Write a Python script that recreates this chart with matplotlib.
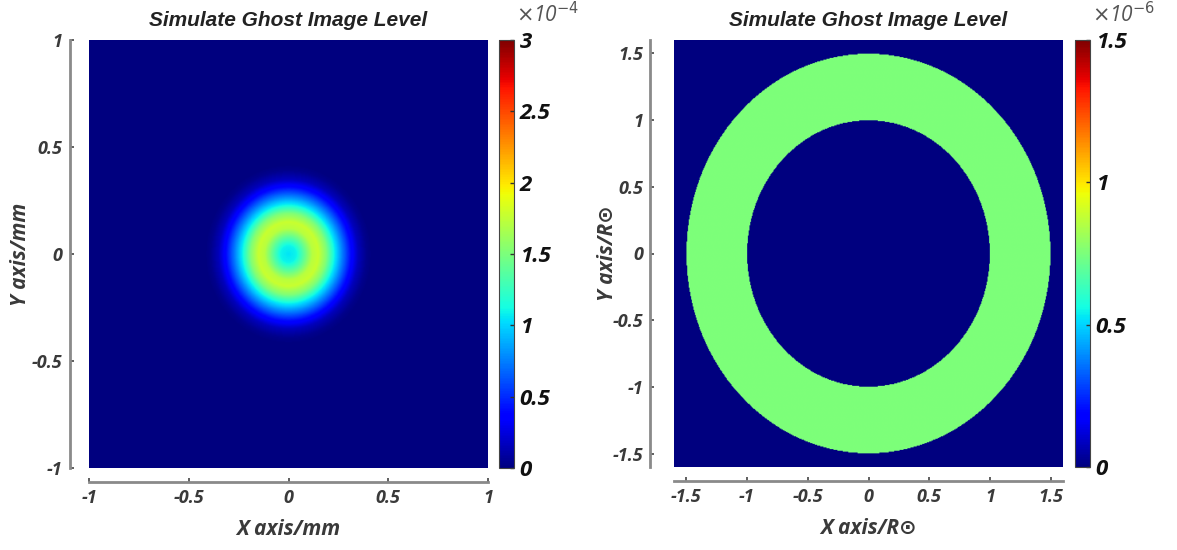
import numpy as np
import matplotlib
matplotlib.use("Agg")
import matplotlib.pyplot as plt

# ---- data ----
# Left panel: radial profile of the ghost spot (radius in mm, level in 1e-4)
spot_radius = [0.00, 0.04, 0.08, 0.12, 0.15, 0.19, 0.23, 0.27, 0.31, 0.35, 0.39, 0.42, 1.50]
spot_level = [1.05, 1.10, 1.40, 1.72, 1.78, 1.52, 1.10, 0.75, 0.42, 0.16, 0.04, 0.00, 0.00]
# Right panel: annulus (radius in R_sun, level in 1e-6)
ring_inner = 1.0
ring_outer = 1.5
ring_level = 0.75

left_xticks = [-1, -0.5, 0, 0.5, 1]
left_yticks = [-1, -0.5, 0, 0.5, 1]
left_cticks = [0, 0.5, 1, 1.5, 2, 2.5, 3]
right_ticks = [-1.5, -1, -0.5, 0, 0.5, 1, 1.5]
right_cticks = [0, 0.5, 1, 1.5]

title = "Simulate Ghost Image Level"

LBL = ["Open Sans", "DejaVu Sans"]
TTL = ["Liberation Sans", "DejaVu Sans"]
plt.rcParams["font.family"] = LBL
TICKC = "#3a3a3a"
SPC = "#8a8a8a"

fig = plt.figure(figsize=(11.77, 5.5), dpi=100)
W, H = 1177, 550


def ax_rect(x0, y0, x1, y1):
    return [x0 / W, 1 - y1 / H, (x1 - x0) / W, (y1 - y0) / H]


def fmt(v):
    return ("%g" % v)


def style_axes(ax, xt, yt, xlabel, ylabel, ylx, offl):
    for s in ["top", "right"]:
        ax.spines[s].set_visible(False)
    ax.spines["left"].set_position(("outward", offl))
    ax.spines["bottom"].set_position(("outward", 10))
    for s in ["left", "bottom"]:
        ax.spines[s].set_color(SPC)
        ax.spines[s].set_linewidth(2.0)
    ax.set_xticks(xt)
    ax.set_yticks(yt)
    ax.set_xticklabels([fmt(v) for v in xt])
    ax.set_yticklabels([fmt(v) for v in yt])
    ax.tick_params(direction="in", length=3, width=1.2, color="#444444",
                   labelcolor=TICKC, labelsize=13, pad=5)
    for lab in ax.get_xticklabels() + ax.get_yticklabels():
        lab.set_fontweight("bold")
        lab.set_fontstyle("italic")
    ax.set_xlabel(xlabel, fontsize=15, fontweight="bold", fontstyle="italic",
                  color=TICKC)
    ax.set_ylabel(ylabel, fontsize=15, fontweight="bold", fontstyle="italic",
                  color=TICKC)
    ax.xaxis.set_label_coords(0.5, -0.12)
    ax.yaxis.set_label_coords(ylx, 0.5)
    ax.set_title(title, fontsize=15, fontweight="bold", fontstyle="italic",
                 color="#222222", pad=10, family=TTL)


def style_cbar(cax, cb, ticks, scale, exp):
    cb.set_ticks([v * scale for v in ticks])
    cax.set_yticklabels([fmt(v) for v in ticks])
    cax.tick_params(direction="in", length=3, width=1, color="#333333",
                    labelsize=16, pad=4, labelcolor="#111111")
    for lab in cax.get_yticklabels():
        lab.set_fontweight("bold")
        lab.set_fontstyle("italic")
    cb.outline.set_edgecolor("#444444")
    cb.outline.set_linewidth(0.8)
    cax.text(1.1, 1.03, r"$\times$10$^{%s}$" % exp, transform=cax.transAxes,
             fontsize=15, color="#555555", fontstyle="italic", ha="left",
             va="bottom")


# ---------- left panel ----------
n = 500
xs = np.linspace(-1, 1, n)
X, Y = np.meshgrid(xs, xs)
R = np.sqrt(X ** 2 + Y ** 2)
Z1 = np.interp(R, spot_radius, spot_level) * 1e-4

ax1 = fig.add_axes(ax_rect(89, 40, 488, 468))
im1 = ax1.imshow(Z1, extent=[-1, 1, -1, 1], origin="lower", cmap="jet",
                 vmin=0, vmax=3e-4, aspect="auto", interpolation="bilinear")
ax1.set_xlim(-1, 1)
ax1.set_ylim(-1, 1)
style_axes(ax1, left_xticks, left_yticks, "X axis/mm", "Y axis/mm", -0.145, 14)

cax1 = fig.add_axes(ax_rect(499, 40, 514, 468))
cb1 = fig.colorbar(im1, cax=cax1)
style_cbar(cax1, cb1, left_cticks, 1e-4, "-4")

# ---------- right panel ----------
xs2 = np.linspace(-1.6, 1.6, n)
X2, Y2 = np.meshgrid(xs2, xs2)
R2 = np.sqrt(X2 ** 2 + Y2 ** 2)
Z2 = np.where((R2 >= ring_inner) & (R2 <= ring_outer), ring_level, 0.0) * 1e-6

ax2 = fig.add_axes(ax_rect(674, 40, 1063, 467))
im2 = ax2.imshow(Z2, extent=[-1.6, 1.6, -1.6, 1.6], origin="lower",
                 cmap="jet", vmin=0, vmax=1.5e-6, aspect="auto",
                 interpolation="bilinear")
ax2.set_xlim(-1.6, 1.6)
ax2.set_ylim(-1.6, 1.6)
style_axes(ax2, right_ticks, right_ticks, "X axis/R\u2299", "Y axis/R\u2299",
           -0.145, 17)

cax2 = fig.add_axes(ax_rect(1075, 40, 1090, 467))
cb2 = fig.colorbar(im2, cax=cax2)
style_cbar(cax2, cb2, right_cticks, 1e-6, "-6")

fig.savefig("out.png", dpi=100)
